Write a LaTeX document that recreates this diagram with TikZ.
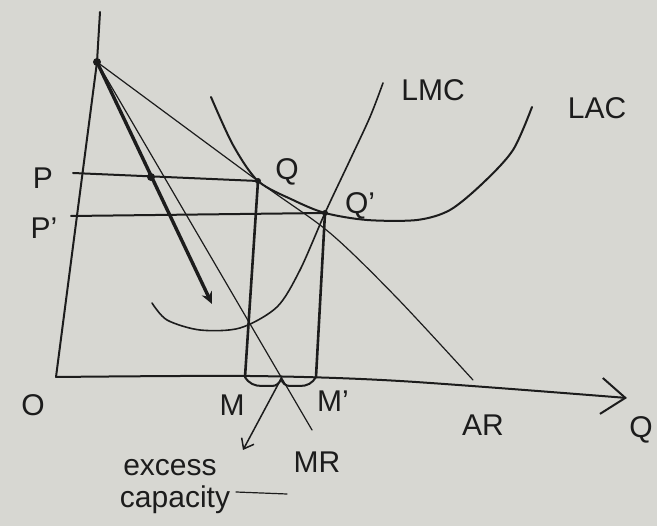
\documentclass[tikz,border=0pt]{standalone}
\usepackage{fontspec}
\setmainfont{Liberation Sans}
\usetikzlibrary{arrows.meta}
\definecolor{paper}{HTML}{D7D7D2}
\definecolor{ink}{HTML}{1C1C1C}
\tikzset{
    ec axis/.style={ink, line width=2pt, line cap=round},
    ec thin/.style={ink, line width=1.2pt, line cap=round},
    ec curve/.style={ink, line width=2pt, line cap=round},
    ec thick/.style={ink, line width=3.4pt, line cap=round},
    ec drop/.style={ink, line width=2.6pt, line cap=round},
    ec dot/.style={circle, fill=ink, inner sep=0pt, minimum size=8pt},
    ec lbl/.style={font=\fontsize{30}{32}\selectfont, text=ink, inner sep=0pt},
}

\begin{document}
\begin{tikzpicture}[x=1pt, y=-1pt]
    % Paper and frame
    \fill[paper] (0,0) rectangle (657,526);
    \useasboundingbox (0,0) rectangle (657,526);
    % Key points
    \coordinate (O) at (56,377);
    \coordinate (A) at (97,62);
    \coordinate (ytop) at (100,12);
    \coordinate (xmid) at (250,376);
    \coordinate (xfar) at (400,381);
    \coordinate (xend) at (627,398);
    \coordinate (Q) at (258,181);
    \coordinate (Qp) at (325,213);
    \coordinate (M) at (245,377);
    \coordinate (Mp) at (316,377);
    \coordinate (Py) at (73,173);
    \coordinate (Ppy) at (71,216);
    \coordinate (D) at (151,177);
    \coordinate (Dend) at (212,304);
    \coordinate (ARend) at (473,380);
    \coordinate (MRend) at (312,430);
    \coordinate (brace) at (281,379);
    \coordinate (exend) at (243,450);
    \coordinate (dashA) at (236,492);
    \coordinate (dashB) at (287,494);
    % Axes
    \draw[ec axis] (O) -- (A) -- (ytop);
    \draw[ec axis, -{Straight Barb[length=24pt, width=36pt]}]
        plot[smooth] coordinates {(O) (xmid) (xfar) (xend)};
    % Price lines
    \draw[ec curve] (Py) -- (Q);
    \draw[ec curve] (Ppy) -- (Qp);
    % Demand shift and revenue lines
    \draw[ec thick, -{Stealth[length=12pt, width=11pt]}] (A) -- (Dend);
    \draw[ec thin] (A) -- (MRend);
    \draw[ec thin] plot[smooth] coordinates
        {(A) (Q) (330,233) (397,298) (ARend)};
    % Cost curves
    \draw[ec curve] plot[smooth] coordinates
        {(211,97) (233,145) (Q) (293,200) (Qp) (367,220) (417,220)
         (450,210) (483,183) (513,150) (532,107)};
    \draw[ec thin, line width=1.6pt] plot[smooth] coordinates
        {(152,303) (167,320) (200,330) (240,328) (277,307) (300,270)
         (Qp) (350,160) (370,117) (383,83)};
    % Output drops
    \draw[ec drop] (Q) -- (M);
    \draw[ec drop] (Qp) -- (Mp);
    \draw[ec curve] (M) to[out=-60, in=180] (262,386) -- (272,386)
        to[out=0, in=-110] (brace) to[out=-70, in=180] (290,386)
        -- (300,386) to[out=0, in=-120] (Mp);
    \draw[ec thin, line width=1.5pt, -{Straight Barb[length=9pt, width=14pt]}]
        (brace) -- (exend);
    % Dots
    \node[ec dot] (dA) at (A) {};
    \node[ec dot] (dD) at (D) {};
    \node[ec dot, minimum size=6pt] (dQ) at (Q) {};
    \node[ec dot, minimum size=6pt] (dQp) at (Qp) {};
    % Labels
    \node[ec lbl] (lO) at (33,405) {O};
    \node[ec lbl] (lP) at (43,178) {P};
    \node[ec lbl] (lPp) at (44,228) {P'};
    \node[ec lbl] (lQ) at (287,172) {Q};
    \node[ec lbl] (lQp) at (360,206) {Q'};
    \node[ec lbl] (lLMC) at (433,90) {LMC};
    \node[ec lbl] (lLAC) at (597,108) {LAC};
    \node[ec lbl] (lM) at (232,405) {M};
    \node[ec lbl] (lMp) at (333,401) {M'};
    \node[ec lbl] (lAR) at (483,425) {AR};
    \node[ec lbl] (lMR) at (317,462) {MR};
    \node[ec lbl] (lQax) at (641,430) {Q};
    \node[ec lbl] (lex) at (170,468) {excess};
    \node[ec lbl] (lcap) at (175,500) {capacity};
    \draw[ec thin] (dashA) -- (dashB);
\end{tikzpicture}
\end{document}
